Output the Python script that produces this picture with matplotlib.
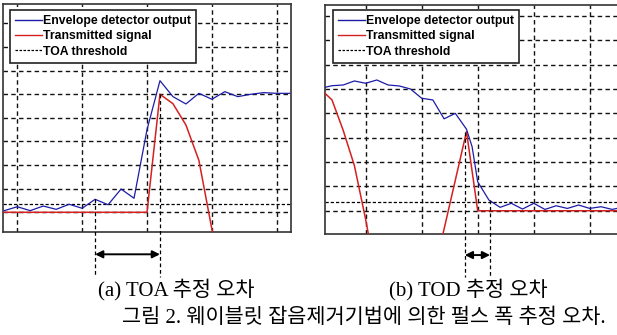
import matplotlib
matplotlib.use("Agg")
import matplotlib.pyplot as plt
from matplotlib.lines import Line2D

# ---------------- data ----------------
# (a) TOA panel: sample index vs. normalised amplitude
toa_blue_x = [0, 1, 2, 3, 4, 5, 6, 7, 8, 9, 10, 11, 12, 13, 14, 15, 16, 17, 18, 19, 20, 21, 22]
toa_blue = [0.014, 0.047, 0.014, 0.053, 0.025, 0.068, 0.034, 0.11, 0.064, 0.197, 0.119, 0.70,
            1.115, 0.98, 0.918, 1.008, 0.958, 1.022, 0.98, 1.0, 1.014, 1.008, 1.008]
toa_red_x = [-0.1, 11, 12, 13, 14, 15, 16.1]
toa_red = [0.0, 0.0, 1.0, 0.92, 0.74, 0.44, -0.2]
toa_threshold = 0.07
toa_marks = [7, 12]            # error span (dashed markers + arrow)
toa_mark_tops = [0.11, 1.0]

# (b) TOD panel
tod_blue_x = [-0.625, 0, 1, 2, 3, 4, 5, 6, 7, 8, 9, 10, 11, 12, 12.5, 13, 14, 15, 16, 17,
              18, 19, 20, 21, 22, 23, 24, 25, 26]
tod_blue = [1.014, 1.027, 1.033, 1.066, 1.047, 1.074, 1.033, 1.025, 1.0, 0.924, 0.91, 0.755,
            0.80, 0.67, 0.526, 0.238, 0.088, 0.028, 0.061, 0.014, 0.061, 0.011, 0.041, 0.019,
            0.047, 0.019, 0.033, 0.011, 0.03]
tod_red1_x = [-0.625, 0, 1, 2, 3, 3.5]
tod_red1 = [0.965, 0.91, 0.66, 0.37, -0.07, -0.32]
tod_red2_x = [9.5, 12, 13, 26.6]
tod_red2 = [-0.35, 0.65, 0.0, 0.0]
tod_threshold = 0.069
tod_marks = [11.85, 14.1]
tod_mark_tops = [0.65, 0.088]

legend_labels = ["Envelope detector output", "Transmitted signal", "TOA threshold"]
grid_levels = [0, 0.2, 0.4, 0.6, 0.8, 1.0, 1.2, 1.4, 1.6]
toa_grid_x = [1, 6, 11, 16, 21]
tod_grid_x = [3, 8, 13, 18, 23]

caption_a = "(a) TOA 추정 오차"
caption_b = "(b) TOD 추정 오차"
caption_main = "그림 2. 웨이블릿 잡음제거기법에 의한 펄스 폭 추정 오차."

# ---------------- styling ----------------
W, H = 617, 335
BLUE = "#1c1ca8"
RED = "#d42020"
GRID_DASH = (0, (3.2, 2.4))
THR_DASH = (0, (2.6, 1.6))
legend_font = {"family": ["Liberation Sans"], "weight": "bold", "size": 8.8}
cap_family = ["Liberation Serif", "Noto Sans CJK KR"]

fig = plt.figure(figsize=(W / 100, H / 100), dpi=100)


def px_rect(x0, y0, x1, y1):
    return [x0 / W, 1 - y1 / H, (x1 - x0) / W, (y1 - y0) / H]


def style_axes(ax, gx, show_right=True):
    ax.set_xticks(gx)
    ax.set_yticks(grid_levels)
    ax.tick_params(length=0, labelleft=False, labelbottom=False)
    ax.grid(True, color="#111111", linestyle=GRID_DASH, linewidth=1.0, zorder=0)
    ax.set_axisbelow(True)
    for s in ax.spines.values():
        s.set_color("#333333")
        s.set_linewidth(1.2)
    if not show_right:
        ax.spines["right"].set_visible(False)


def add_legend(ax, anchor):
    handles = [Line2D([], [], color=BLUE, lw=1.0),
               Line2D([], [], color=RED, lw=1.0),
               Line2D([], [], color="k", lw=0.9, linestyle=(0, (2, 1.2)))]
    leg = ax.legend(handles, legend_labels, loc="upper left", bbox_to_anchor=anchor,
                    borderaxespad=0, prop=legend_font, fancybox=False, framealpha=1,
                    edgecolor="#222222", handlelength=2.2, handletextpad=0.12,
                    labelspacing=0.28, borderpad=0.4)
    leg.get_frame().set_linewidth(1.2)
    leg.set_zorder(10)


def add_marks(ax, xs, tops, bottom, arrow_y):
    for x, t in zip(xs, tops):
        ax.plot([x, x], [t, bottom], color="k", lw=0.9, linestyle=(0, (3, 2.2)),
                clip_on=False, zorder=5)
    ax.annotate("", xy=(xs[0], arrow_y), xytext=(xs[1], arrow_y),
                arrowprops=dict(arrowstyle="<|-|>", color="k", lw=1.4,
                                mutation_scale=11, shrinkA=0, shrinkB=0),
                annotation_clip=False)


# ---------------- panel (a) ----------------
ax1 = fig.add_axes(px_rect(3, 4, 291, 232))
ax1.set_xlim(-0.1, 22.1)
ax1.set_ylim(-0.167, 1.765)
style_axes(ax1, toa_grid_x)
ax1.axhline(toa_threshold, color="k", lw=0.9, linestyle=THR_DASH, zorder=2)
ax1.plot(toa_red_x, toa_red, color=RED, lw=1.1, zorder=3)
ax1.plot(toa_blue_x, toa_blue, color=BLUE, lw=0.9, zorder=4)
add_legend(ax1, ((10 - 3) / 288, 1 - (10 - 4) / 228))
add_marks(ax1, toa_marks, toa_mark_tops, -0.548, -0.356)

# ---------------- panel (b) ----------------
ax2 = fig.add_axes(px_rect(325, 5, 629, 234))
ax2.set_xlim(-0.625, 26.5)
ax2.set_ylim(-0.191, 1.69)
style_axes(ax2, tod_grid_x, show_right=False)
ax2.axhline(tod_threshold, color="k", lw=0.9, linestyle=THR_DASH, zorder=2)
ax2.plot(tod_red1_x, tod_red1, color=RED, lw=1.1, zorder=3)
ax2.plot(tod_red2_x, tod_red2, color=RED, lw=1.1, zorder=3)
ax2.plot(tod_blue_x, tod_blue, color=BLUE, lw=0.9, zorder=4)
add_legend(ax2, ((333 - 325) / 304, 1 - (10 - 5) / 229))
add_marks(ax2, tod_marks, tod_mark_tops, -0.545, -0.364)

# ---------------- captions ----------------
fig.text(176 / W, 1 - 290 / H, caption_a, ha="center", va="center",
         family=cap_family, fontsize=15)
fig.text(468 / W, 1 - 290 / H, caption_b, ha="center", va="center",
         family=cap_family, fontsize=15)
fig.text(364 / W, 1 - 318 / H, caption_main, ha="center", va="center",
         family=cap_family, fontsize=15)

fig.savefig("out.png", dpi=100)
